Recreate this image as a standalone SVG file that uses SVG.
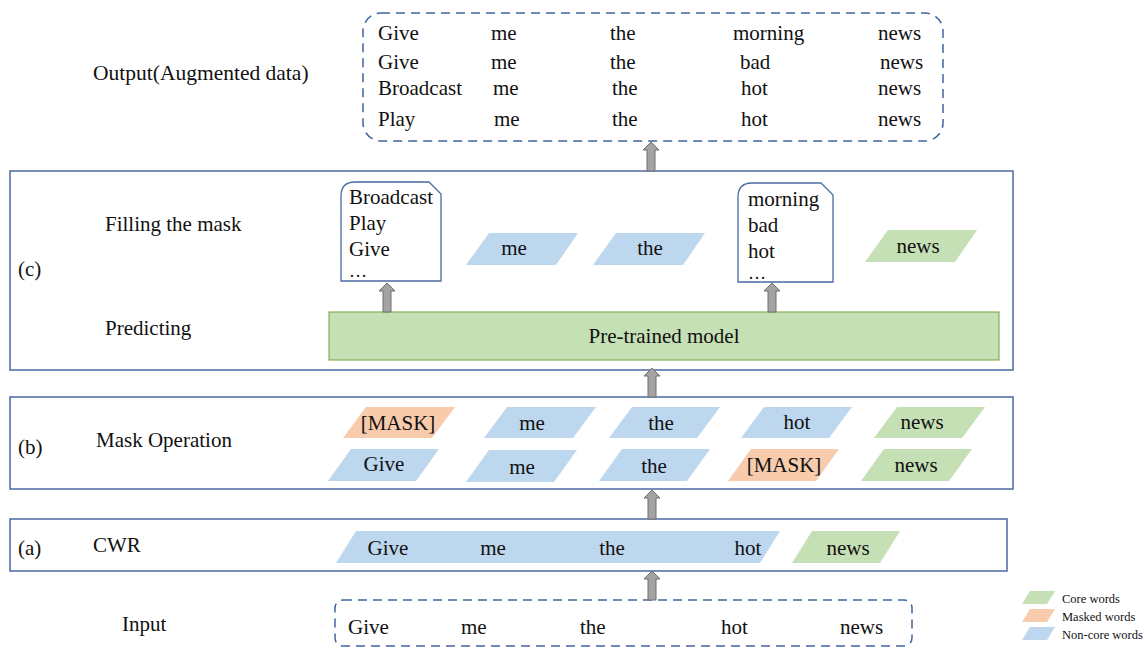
<svg xmlns="http://www.w3.org/2000/svg" width="1146" height="649" viewBox="0 0 1146 649" font-family="'Liberation Serif', 'Times New Roman', serif" font-size="21">
<defs>
<style>
.c{text-anchor:middle}
.frame{fill:#fff;stroke:#4A6AA3;stroke-width:1.5}
.dash{fill:#fff;stroke:#3F649E;stroke-width:1.5;stroke-dasharray:9 6}
.blue{fill:#BDD7EE}
.green{fill:#C5E0B4}
.orange{fill:#F8CBAD}
.doc{fill:#fff;stroke:#4A6AA3;stroke-width:1.3}
.arr{fill:#A3A3A3;stroke:#6F6F6F;stroke-width:1}
</style>
<path id="ua" d="M-4,0 V-21 H-8 L0,-29 L8,-21 H4 V0 Z"/>
</defs>

<g id="output" fill="#111">
<rect class="dash" x="363" y="13" width="580" height="128" rx="18"/>
<text x="93" y="80" font-size="21.5">Output(Augmented data)</text>
<text x="378" y="40">Give</text><text x="491" y="40">me</text><text x="610" y="40">the</text><text x="733" y="40">morning</text><text x="878" y="40">news</text>
<text x="378" y="69">Give</text><text x="491" y="69">me</text><text x="610" y="69">the</text><text x="740" y="69">bad</text><text x="880" y="69">news</text>
<text x="378" y="95">Broadcast</text><text x="493" y="95">me</text><text x="612" y="95">the</text><text x="741" y="95">hot</text><text x="878" y="95">news</text>
<text x="378" y="126">Play</text><text x="494" y="126">me</text><text x="612" y="126">the</text><text x="741" y="126">hot</text><text x="878" y="126">news</text>
</g>

<g id="stage-c" fill="#111">
<rect class="frame" x="10" y="171" width="1003" height="199"/>
<text x="18" y="276">(c)</text>
<text x="105" y="231">Filling the mask</text>
<text x="105" y="335">Predicting</text>
<g id="pretrained">
<rect x="329" y="312" width="670" height="48" fill="#C5E0B4" stroke="#7DB35A" stroke-width="1.2"/>
<text class="c" x="664" y="343">Pre-trained model</text>
</g>
<g id="doc-left">
<path class="doc" d="M341,281 V196 Q341,182 355,182 H429 L441,194 V281 Z"/>
<text x="349" y="204">Broadcast</text><text x="349" y="230">Play</text><text x="349" y="256">Give</text><text x="349" y="277" font-size="18">…</text>
</g>
<g id="doc-right">
<path class="doc" d="M738,282 V197 Q738,183 752,183 H821 L833,195 V282 Z"/>
<text x="748" y="206">morning</text><text x="748" y="232">bad</text><text x="748" y="258">hot</text><text x="748" y="279" font-size="18">…</text>
</g>
<g id="c-me"><polygon class="blue" points="466,265 489,233 578,233 556,265"/><text class="c" x="514" y="255">me</text></g>
<g id="c-the"><polygon class="blue" points="593,265 616,233 705,233 683,265"/><text class="c" x="650" y="255">the</text></g>
<g id="c-news"><polygon class="green" points="865,262 888,230 977,230 955,262"/><text class="c" x="918" y="253">news</text></g>
</g>

<g id="stage-b" fill="#111">
<rect class="frame" x="10" y="397" width="1003" height="92"/>
<text x="18" y="454">(b)</text>
<text x="96" y="447">Mask Operation</text>
<g id="b1-mask"><polygon class="orange" points="343,438 366,407 455,407 432,438"/><text class="c" x="398" y="430">[MASK]</text></g>
<g id="b1-me"><polygon class="blue" points="484,438 507,407 596,407 573,438"/><text class="c" x="532" y="430">me</text></g>
<g id="b1-the"><polygon class="blue" points="609,438 632,407 720,407 697,438"/><text class="c" x="661" y="430">the</text></g>
<g id="b1-hot"><polygon class="blue" points="741,438 764,407 852,407 829,438"/><text class="c" x="797" y="429">hot</text></g>
<g id="b1-news"><polygon class="green" points="874,438 897,407 985,407 962,438"/><text class="c" x="922" y="429">news</text></g>
<g id="b2-give"><polygon class="blue" points="328,481 351,449 439,449 416,481"/><text class="c" x="384" y="471">Give</text></g>
<g id="b2-me"><polygon class="blue" points="466,482 489,450 577,450 554,482"/><text class="c" x="522" y="474">me</text></g>
<g id="b2-the"><polygon class="blue" points="599,481 622,449 710,449 687,481"/><text class="c" x="654" y="473">the</text></g>
<g id="b2-mask"><polygon class="orange" points="728,481 751,449 839,449 816,481"/><text class="c" x="784" y="472">[MASK]</text></g>
<g id="b2-news"><polygon class="green" points="861,481 884,449 972,449 949,481"/><text class="c" x="916" y="472">news</text></g>
</g>

<g id="stage-a" fill="#111">
<rect class="frame" x="10" y="519" width="997" height="52"/>
<text x="18" y="555">(a)</text>
<text x="93" y="552">CWR</text>
<g id="a-noncore"><polygon class="blue" points="336,563 356,531 780,531 760,563"/>
<text class="c" x="388" y="555">Give</text><text class="c" x="493" y="555">me</text><text class="c" x="612" y="555">the</text><text class="c" x="748" y="555">hot</text></g>
<g id="a-core"><polygon class="green" points="792,563 812,531 900,531 880,563"/><text class="c" x="848" y="555">news</text></g>
</g>

<g id="input" fill="#111">
<rect class="dash" x="335" y="600" width="577" height="46" rx="8"/>
<text x="122" y="631">Input</text>
<text x="348" y="634">Give</text><text x="461" y="634">me</text><text x="580" y="634">the</text><text x="721" y="634">hot</text><text x="840" y="634">news</text>
</g>

<g id="connectors">
<use href="#ua" class="arr" x="651" y="171"/>
<use href="#ua" class="arr" x="652" y="397"/>
<use href="#ua" class="arr" x="652" y="519"/>
<use href="#ua" class="arr" x="652" y="600"/>
<use href="#ua" class="arr" x="387" y="312"/>
<use href="#ua" class="arr" x="772" y="312"/>
</g>

<g id="legend" fill="#111" font-size="12.5">
<polygon class="green" points="1022,604 1030,591 1055,591 1047,604"/>
<polygon class="orange" points="1022,622 1030,609 1055,609 1047,622"/>
<polygon class="blue" points="1022,640 1030,627 1055,627 1047,640"/>
<text x="1062" y="603">Core words</text>
<text x="1062" y="621">Masked words</text>
<text x="1062" y="639">Non-core words</text>
</g>
</svg>
